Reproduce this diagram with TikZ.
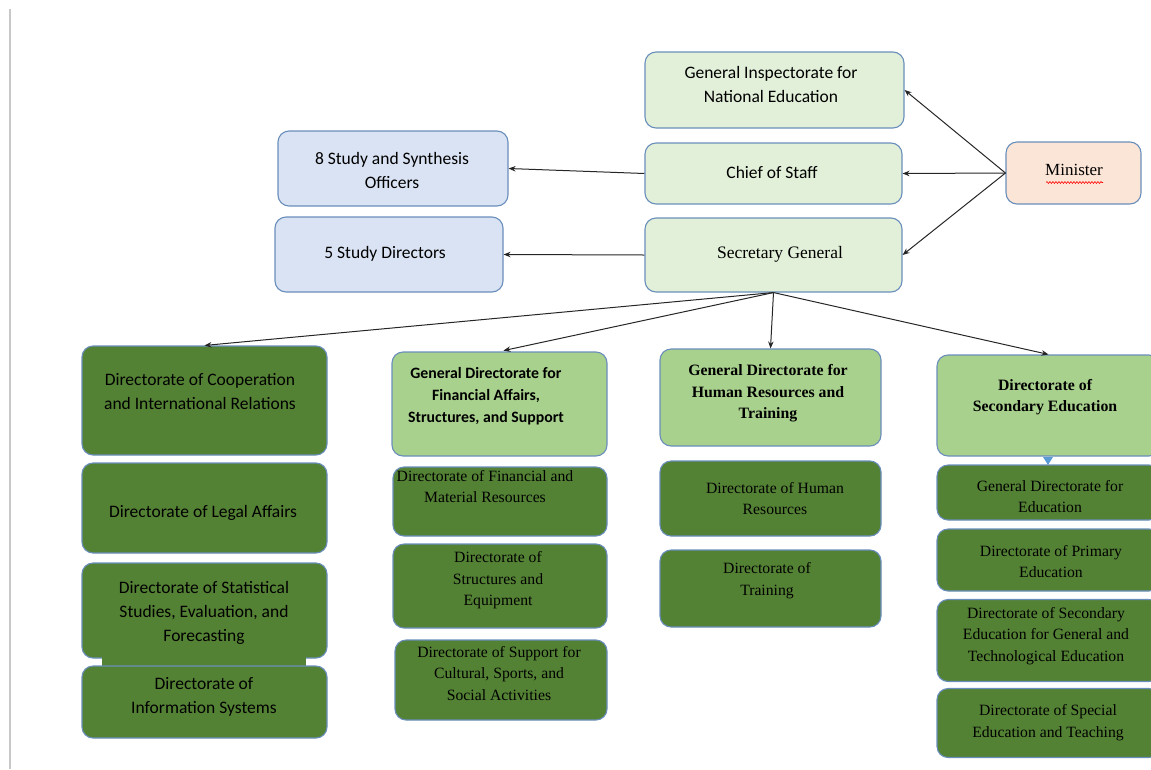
\documentclass[tikz,border=0pt]{standalone}
\usepackage{fontspec}
\setmainfont{Liberation Serif}
\newfontfamily\calib{Carlito}
\usetikzlibrary{arrows.meta,decorations.pathmorphing}

\definecolor{edgeblue}{HTML}{6A8EBB}
\definecolor{palegreen}{HTML}{E2F0D9}
\definecolor{paleblue}{HTML}{DAE3F3}
\definecolor{peach}{HTML}{FBE5D6}
\definecolor{midgreen}{HTML}{A9D18E}
\definecolor{darkgreen}{HTML}{548235}
\definecolor{framegray}{HTML}{C8C8C8}
\definecolor{tipblue}{HTML}{5B9BD5}

\tikzset{
  box/.style={draw=edgeblue, line width=1.1pt, rounded corners=11pt, inner sep=0pt},
  pale/.style={box, fill=palegreen},
  blu/.style={box, fill=paleblue},
  head/.style={box, fill=midgreen},
  unit/.style={box, fill=darkgreen},
  sanslbl/.style={align=center, inner sep=0pt, font=\calib\fontsize{17.5}{24}\selectfont},
  sansbold/.style={align=center, inner sep=0pt, font=\calib\bfseries\fontsize{15.8}{22}\selectfont},
  seriflbl/.style={align=center, inner sep=0pt, font=\fontsize{15.7}{21.5}\selectfont},
  serifbold/.style={align=center, inner sep=0pt, font=\bfseries\fontsize{15.8}{21.5}\selectfont},
  link/.style={draw=black!85, line width=1pt, -{Stealth[length=7pt,width=5.5pt]}},
}

\begin{document}
\begin{tikzpicture}[x=1pt,y=-1pt]
\useasboundingbox (0,0) rectangle (1151,769);

% page rule on the left
\draw[framegray, line width=1.3pt] (10,9) -- (10,769);

% top level
\node[pale, minimum width=259pt, minimum height=76pt] (insp) at (774.5,90) {};
\node[sanslbl] (inspt) at (771,84.5) {General Inspectorate for\\National Education};
\node[pale, minimum width=257pt, minimum height=61pt] (chief) at (773.5,173.5) {};
\node[sanslbl] (chieft) at (772,172) {Chief of Staff};
\node[pale, minimum width=257pt, minimum height=74pt] (secg) at (773.5,255) {};
\node[seriflbl, font=\fontsize{17.5}{21.5}\selectfont] (secgt) at (780,254) {Secretary General};
\node[box, fill=peach, minimum width=135pt, minimum height=62pt] (minister) at (1073.5,173) {};
\node[seriflbl, font=\fontsize{17}{21.5}\selectfont] (ministert) at (1074,170) {Minister};
\draw[red, line width=0.6pt, decorate, decoration={snake, amplitude=0.9pt, segment length=3pt}] (1046,182.5) -- (1103,182.5);

\node[blu, minimum width=230pt, minimum height=75pt] (synth) at (393,168.5) {};
\node[sanslbl] (syntht) at (392,170.5) {8 Study and Synthesis\\Officers};
\node[blu, minimum width=228pt, minimum height=75pt] (sdir) at (389,254.5) {};
\node[sanslbl] (sdirt) at (385,254) {5 Study Directors};

% first column
\node[unit, minimum width=245pt, minimum height=109pt] (coop) at (204.5,400.5) {};
\node[sanslbl] (coopt) at (200,392) {Directorate of Cooperation\\and International Relations};
\node[unit, minimum width=245pt, minimum height=90pt] (legal) at (204.5,508) {};
\node[sanslbl] (legalt) at (203,513) {Directorate of Legal Affairs};
\node[unit, minimum width=245pt, minimum height=95pt] (stat) at (204.5,610.5) {};
\fill[darkgreen] (102,655) rectangle (306,668);
\node[sanslbl] (statt) at (204,613) {Directorate of Statistical\\Studies, Evaluation, and\\Forecasting};
\node[unit, minimum width=245pt, minimum height=72pt] (info) at (204.5,702) {};
\node[sanslbl] (infot) at (204,697) {Directorate of\\Information Systems};

% second column
\node[head, minimum width=215pt, minimum height=104pt] (fin) at (499.5,404) {};
\node[sansbold] (fint) at (486,396) {General Directorate for\\Financial Affairs,\\Structures, and Support};
\node[unit, minimum width=214pt, minimum height=69pt] (finmat) at (500,501.5) {};
\node[seriflbl] (finmatt) at (485,486.5) {Directorate of Financial and\\Material Resources};
\node[unit, minimum width=214pt, minimum height=84pt] (struct) at (500,586) {};
\node[seriflbl] (structt) at (498,580.5) {Directorate of\\Structures and\\Equipment};
\node[unit, minimum width=212pt, minimum height=80pt] (support) at (501,680) {};
\node[seriflbl] (supportt) at (499,673.5) {Directorate of Support for\\Cultural, Sports, and\\Social Activities};

% third column
\node[head, minimum width=221pt, minimum height=97pt] (ghr) at (770.5,397.5) {};
\node[serifbold] (ghrt) at (768,393.5) {General Directorate for\\Human Resources and\\Training};
\node[unit, minimum width=221pt, minimum height=75pt] (dhr) at (770.5,498.5) {};
\node[seriflbl] (dhrt) at (775,498.5) {Directorate of Human\\Resources};
\node[unit, minimum width=221pt, minimum height=77pt] (train) at (770.5,588.5) {};
\node[seriflbl] (traint) at (767,580.5) {Directorate of\\Training};

% fourth column
\node[head, minimum width=223pt, minimum height=101pt] (sec) at (1048.5,405.5) {};
\node[serifbold] (sect) at (1045,397) {Directorate of\\Secondary Education};
\fill[tipblue] (1043,457) -- (1053,457) -- (1048,465) -- cycle;
\node[unit, minimum width=223pt, minimum height=55pt] (gded) at (1048.5,492.5) {};
\node[seriflbl] (gdedt) at (1050,496.5) {General Directorate for\\Education};
\node[unit, minimum width=223pt, minimum height=62pt] (prim) at (1048.5,560) {};
\node[seriflbl] (primt) at (1051,561.5) {Directorate of Primary\\Education};
\node[unit, minimum width=223pt, minimum height=82pt] (secgen) at (1048.5,640.5) {};
\node[seriflbl] (secgent) at (1046,636) {Directorate of Secondary\\Education for General and\\Technological Education};
\node[unit, minimum width=223pt, minimum height=69pt] (spec) at (1048.5,723) {};
\node[seriflbl] (spect) at (1048,722.5) {Directorate of Special\\Education and Teaching};

% connectors
\draw[link] (minister.west) -- (insp.east);
\draw[link] (minister.west) -- (chief.east);
\draw[link] (minister.west) -- (secg.east);
\draw[link] (chief.west) -- (synth.east);
\draw[link] (secg.west) -- (sdir.east);
\draw[link] (secg.south) -- (coop.north);
\draw[link, shorten >=4pt] (secg.south) -- (fin.north);
\draw[link] (secg.south) -- (ghr.north);
\draw[link] (secg.south) -- (sec.north);
\end{tikzpicture}
\end{document}
